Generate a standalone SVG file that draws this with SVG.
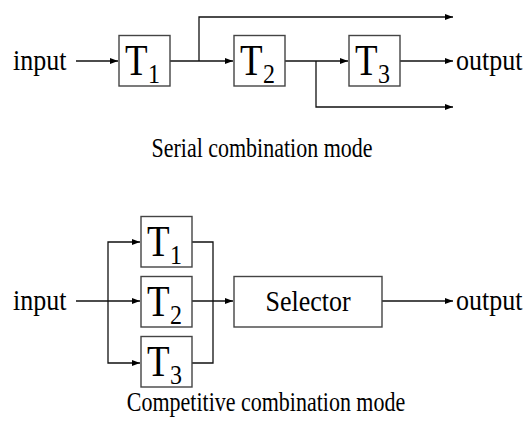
<svg xmlns="http://www.w3.org/2000/svg" width="526" height="432" viewBox="0 0 526 432">
<style>
text{font-family:"Liberation Serif","Times New Roman",serif;fill:#000}
.lbl{font-size:26px}
.cap{font-size:22px}
.big{font-size:37px}
.sub{font-size:24px}
.box{fill:#fff;stroke:#444;stroke-width:1.4}
.ln{fill:none;stroke:#111;stroke-width:1.3}
</style>
<defs>
<marker id="ah" viewBox="0 0 8 6" refX="8" refY="3" markerWidth="8" markerHeight="6" markerUnits="userSpaceOnUse" orient="auto">
<path d="M0,0 L8,3 L0,6 z" fill="#000"/>
</marker>
</defs>
<rect width="526" height="432" fill="#fff"/>
<g id="connectors">
<path class="ln" d="M76,61 H118" marker-end="url(#ah)"/>
<path class="ln" d="M170,61 H233" marker-end="url(#ah)"/>
<path class="ln" d="M199,61 V17 H453" marker-end="url(#ah)"/>
<path class="ln" d="M285,61 H348" marker-end="url(#ah)"/>
<path class="ln" d="M316,61 V107 H453" marker-end="url(#ah)"/>
<path class="ln" d="M400,61 H453" marker-end="url(#ah)"/>
<path class="ln" d="M76,301 H140" marker-end="url(#ah)"/>
<path class="ln" d="M108,301 V242 H140" marker-end="url(#ah)"/>
<path class="ln" d="M108,301 V363 H140" marker-end="url(#ah)"/>
<path class="ln" d="M192,242 H213 V363 H192"/>
<path class="ln" d="M192,301 H233" marker-end="url(#ah)"/>
<path class="ln" d="M382,301 H453" marker-end="url(#ah)"/>
</g>
<g id="serial-input"><text class="lbl" transform="translate(13,70) scale(1,1.12)">input</text></g>
<g id="serial-T1"><rect class="box" x="119" y="35.5" width="51" height="50.5"/><text class="big" transform="translate(125,75) scale(1,1.22)">T</text><text class="sub" transform="translate(148,83) scale(1,1.1)">1</text></g>
<g id="serial-T2"><rect class="box" x="234" y="35.5" width="51" height="50.5"/><text class="big" transform="translate(240,75) scale(1,1.22)">T</text><text class="sub" transform="translate(263,83) scale(1,1.1)">2</text></g>
<g id="serial-T3"><rect class="box" x="349" y="35.5" width="51" height="50.5"/><text class="big" transform="translate(355,75) scale(1,1.22)">T</text><text class="sub" transform="translate(378,83) scale(1,1.1)">3</text></g>
<g id="serial-output"><text class="lbl" transform="translate(456,70) scale(1,1.12)">output</text></g>
<g id="serial-caption"><text class="cap" text-anchor="middle" transform="translate(262,157) scale(1,1.2)">Serial combination mode</text></g>
<g id="comp-input"><text class="lbl" transform="translate(13,310) scale(1,1.12)">input</text></g>
<g id="comp-T1"><rect class="box" x="141" y="216.5" width="51" height="50.5"/><text class="big" transform="translate(147,256) scale(1,1.22)">T</text><text class="sub" transform="translate(170,264) scale(1,1.1)">1</text></g>
<g id="comp-T2"><rect class="box" x="141" y="276.5" width="51" height="50.5"/><text class="big" transform="translate(147,316) scale(1,1.22)">T</text><text class="sub" transform="translate(170,324) scale(1,1.1)">2</text></g>
<g id="comp-T3"><rect class="box" x="141" y="336.5" width="51" height="50.5"/><text class="big" transform="translate(147,376) scale(1,1.22)">T</text><text class="sub" transform="translate(170,384) scale(1,1.1)">3</text></g>
<g id="selector"><rect class="box" x="234" y="276.5" width="148" height="50.5"/><text class="lbl" text-anchor="middle" transform="translate(308,311) scale(1,1.12)">Selector</text></g>
<g id="comp-output"><text class="lbl" transform="translate(456,310) scale(1,1.12)">output</text></g>
<g id="comp-caption"><text class="cap" text-anchor="middle" transform="translate(266,411) scale(1,1.2)">Competitive combination mode</text></g>
</svg>
